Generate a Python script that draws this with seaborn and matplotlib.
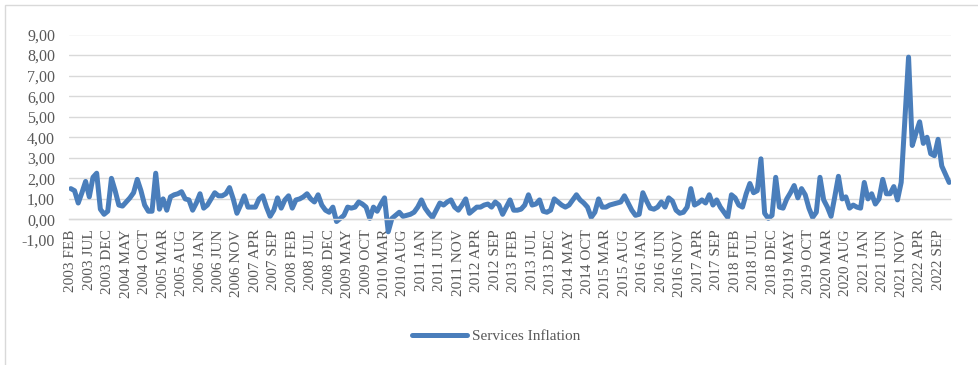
import numpy as np
import pandas as pd
import matplotlib
matplotlib.use("Agg")
import matplotlib.pyplot as plt
from matplotlib.ticker import FixedLocator, FuncFormatter
from matplotlib.patches import Rectangle
import seaborn as sns

# ---- data -------------------------------------------------------------
start_month = "2003-02"
n_months = 239
months = pd.date_range(start_month, periods=n_months, freq="MS")
categories = [f"{d.year} {d.strftime('%b').upper()}" for d in months]

services_inflation = [
    # 2003 FEB ..
    1.5, 1.4, 0.8, 1.3, 1.85, 1.1, 2.05, 2.25, 0.5, 0.25, 0.4,
    2.0, 1.4, 0.7, 0.65, 0.85, 1.05, 1.3, 1.95, 1.4, 0.7, 0.4, 0.4,
    2.25, 0.5, 1.0, 0.45, 1.1, 1.2, 1.25, 1.35, 1.0, 0.95, 0.45, 0.8,
    1.25, 0.55, 0.7, 1.0, 1.3, 1.15, 1.15, 1.25, 1.55, 1.0, 0.3, 0.7,
    1.15, 0.6, 0.6, 0.6, 1.0, 1.15, 0.6, 0.15, 0.45, 1.05, 0.55, 0.95,
    1.15, 0.55, 0.95, 1.0, 1.1, 1.25, 1.0, 0.85, 1.2, 0.7, 0.45, 0.35,
    0.6, -0.1, 0.05, 0.2, 0.6, 0.55, 0.6, 0.85, 0.75, 0.6, 0.05, 0.6,
    0.4, 0.75, 1.05, -0.6, 0.05, 0.2, 0.35, 0.15, 0.2, 0.25, 0.35, 0.6,
    0.95, 0.55, 0.3, 0.1, 0.45, 0.8, 0.7, 0.85, 0.95, 0.6, 0.45, 0.7,
    1.0, 0.3, 0.45, 0.6, 0.6, 0.7, 0.75, 0.6, 0.85, 0.7, 0.25, 0.6,
    0.95, 0.45, 0.45, 0.5, 0.7, 1.2, 0.7, 0.75, 0.95, 0.4, 0.35, 0.45,
    1.0, 0.85, 0.7, 0.6, 0.7, 0.95, 1.2, 0.95, 0.8, 0.6, 0.1, 0.35,
    1.0, 0.6, 0.6, 0.7, 0.75, 0.8, 0.85, 1.15, 0.8, 0.45, 0.2, 0.25,
    1.3, 0.9, 0.55, 0.5, 0.6, 0.85, 0.6, 1.05, 0.9, 0.45, 0.3, 0.35,
    0.6, 1.5, 0.7, 0.8, 0.95, 0.8, 1.2, 0.7, 0.95, 0.6, 0.35, 0.1,
    1.2, 1.05, 0.7, 0.6, 1.25, 1.75, 1.3, 1.4, 2.95, 0.3, 0.05, 0.2,
    2.05, 0.6, 0.55, 1.0, 1.3, 1.65, 1.05, 1.5, 1.2, 0.55, 0.1, 0.35,
    2.05, 0.95, 0.6, 0.15, 1.1, 2.1, 1.0, 1.1, 0.55, 0.7, 0.6, 0.55,
    1.8, 1.0, 1.25, 0.75, 1.0, 1.95, 1.25, 1.25, 1.6, 0.95, 1.8, 4.85,
    7.9, 3.6, 4.2, 4.75, 3.7, 4.0, 3.2, 3.1, 3.9, 2.6, 2.2, 1.8,
]
series_name = "Services Inflation"
y_ticks = [-1, 0, 1, 2, 3, 4, 5, 6, 7, 8, 9]
label_step = 5

df = pd.DataFrame({"idx": np.arange(len(services_inflation)),
                   "value": services_inflation})

# ---- style ------------------------------------------------------------
sns.set_theme(style="white")
plt.rcParams["font.family"] = ["Liberation Serif", "DejaVu Serif"]
text_color = "#595959"
grid_color = "#d9d9d9"
line_color = "#4a7ebb"

fig = plt.figure(figsize=(9.79, 3.65), dpi=100)
fig.patch.set_facecolor("white")
ax = fig.add_axes([69 / 979, 1 - 240 / 365, (951 - 69) / 979, (240 - 34.5) / 365])

sns.lineplot(data=df, x="idx", y="value", ax=ax, color=line_color,
             linewidth=3.6, label=series_name, legend=False,
             solid_capstyle="round", solid_joinstyle="round")

for s in ["top", "right", "left"]:
    ax.spines[s].set_visible(False)
ax.spines["bottom"].set_position(("data", 0))
ax.spines["bottom"].set_color(grid_color)
ax.spines["bottom"].set_linewidth(1.0)

ax.set_xlim(-0.5, len(services_inflation) - 0.5)
ax.set_ylim(-1, 9)
ax.set_xlabel("")
ax.set_ylabel("")

ax.yaxis.set_major_locator(FixedLocator(y_ticks))
ax.yaxis.set_major_formatter(FuncFormatter(lambda v, p: f"{v:.2f}".replace(".", ",")))
ax.grid(axis="y", color=grid_color, linewidth=1.0)
ax.grid(axis="x", visible=False)
ax.set_axisbelow(True)

tick_pos = list(range(0, len(categories), label_step))
ax.set_xticks(tick_pos)
ax.set_xticklabels([categories[i] for i in tick_pos], rotation=90,
                   fontsize=11, color=text_color, va="top", ha="center")
ax.tick_params(axis="x", length=0, pad=7)
ax.tick_params(axis="y", length=0, pad=10, labelsize=11.5, labelcolor=text_color)

handles, labels = ax.get_legend_handles_labels()
fig.legend(handles, labels, loc="center", bbox_to_anchor=(496 / 979, 1 - 336 / 365),
           frameon=False, fontsize=11, handlelength=3.6, handletextpad=0.3,
           labelcolor=text_color)

# chart-area border (left and top visible, right/bottom run off the image)
fig.patches.append(Rectangle((5 / 979, -10 / 365), 1.2, 370 / 365,
                             transform=fig.transFigure, fill=False,
                             edgecolor=grid_color, linewidth=1.0))

fig.savefig("out.png", dpi=100, facecolor="white")
